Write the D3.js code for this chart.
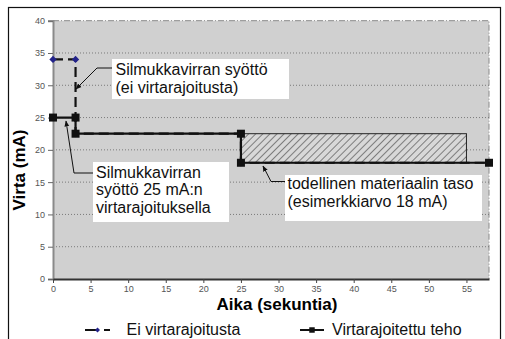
<!DOCTYPE html>
<html>
<head>
<meta charset="utf-8">
<script src="https://cdn.jsdelivr.net/npm/d3@7"></script>
<style>
  html, body { margin: 0; padding: 0; background: #fff; }
  svg { display: block; }
  text { font-family: "Liberation Sans", Arial, sans-serif; }
</style>
</head>
<body>
<svg id="chart" width="505" height="339"></svg>
<script>
// Loop current vs. time, with and without current limiting
const timeNoLimit    = [0, 3, 3, 25, 25, 58];
const currentNoLimit = [34, 34, 22.5, 22.5, 18, 18];
const timeLimited    = [0, 3, 3, 25, 25, 58];
const currentLimited = [25, 25, 22.5, 22.5, 18, 18];

// Actual material level band (example value 18 mA)
const levelTime    = [25, 55];
const levelCurrent = [18, 22.5];

const xTicks = [0, 5, 10, 15, 20, 25, 30, 35, 40, 45, 50, 55];
const yTicks = [0, 5, 10, 15, 20, 25, 30, 35, 40];

const seriesNames = ["Ei virtarajoitusta", "Virtarajoitettu teho"];

const svg = d3.select("#chart");

const x = d3.scaleLinear().domain([0, 58]).range([53, 489]);
const y = d3.scaleLinear().domain([0, 40]).range([279, 20.7]);

// outer frame (open past the bottom edge)
svg.append("rect")
  .attr("x", 8.5).attr("y", 7.5)
  .attr("width", 492).attr("height", 340)
  .attr("fill", "none").attr("stroke", "#111").attr("stroke-width", 1.2);

// plot area
const [x0, x1] = x.range();
const [yb, yt] = y.range();
svg.append("rect")
  .attr("x", x0).attr("y", yt)
  .attr("width", x1 - x0).attr("height", yb - yt)
  .attr("fill", "#d0d0d0");

// top/right plot border
svg.append("path")
  .attr("d", `M${x0},${yt}H${x1}V${yb}`)
  .attr("fill", "none").attr("stroke", "#8a8a8a").attr("stroke-width", 1)
  .attr("stroke-dasharray", "6,2,1,2");

// horizontal gridlines
svg.append("g").selectAll("line")
  .data(yTicks.filter(d => d > 0 && d < 40))
  .join("line")
  .attr("x1", x0).attr("x2", x1)
  .attr("y1", d => y(d)).attr("y2", d => y(d))
  .attr("stroke", "#7a7a7a").attr("stroke-width", 1)
  .attr("stroke-dasharray", "1,2");

// axes
const yAxis = svg.append("g")
  .attr("transform", `translate(${x0},0)`)
  .call(d3.axisLeft(y).tickValues(yTicks).tickSize(5).tickPadding(3));
yAxis.select(".domain").attr("stroke", "#8a8a8a").attr("stroke-width", 2);
yAxis.selectAll(".tick line").attr("stroke", "#666");
yAxis.selectAll(".tick text")
  .attr("font-family", "Liberation Sans, Arial, sans-serif")
  .attr("font-size", 9).attr("fill", "#555");

const xAxis = svg.append("g")
  .attr("transform", `translate(0,${yb})`)
  .call(d3.axisBottom(x).tickValues(xTicks).tickSize(4).tickPadding(3).tickSizeOuter(0));
xAxis.select(".domain").attr("stroke", "#333").attr("stroke-width", 2);
xAxis.selectAll(".tick line").attr("stroke", "#444");
xAxis.selectAll(".tick text")
  .attr("font-family", "Liberation Sans, Arial, sans-serif")
  .attr("font-size", 9).attr("fill", "#555");

// hatched level band
const defs = svg.append("defs");
const pat = defs.append("pattern")
  .attr("id", "hatch").attr("patternUnits", "userSpaceOnUse")
  .attr("width", 5).attr("height", 5)
  .attr("patternTransform", "rotate(45)");
pat.append("rect").attr("width", 5).attr("height", 5).attr("fill", "#d8d8d8");
pat.append("line").attr("x1", 0).attr("y1", 0).attr("x2", 0).attr("y2", 5)
  .attr("stroke", "#222").attr("stroke-width", 1);

svg.append("rect")
  .attr("x", x(levelTime[0])).attr("y", y(levelCurrent[1]))
  .attr("width", x(levelTime[1]) - x(levelTime[0]))
  .attr("height", y(levelCurrent[0]) - y(levelCurrent[1]))
  .attr("fill", "url(#hatch)")
  .attr("stroke", "#222").attr("stroke-width", 1);

// series
const line = d3.line().x(d => x(d[0])).y(d => y(d[1]));
const ptsNoLimit = timeNoLimit.map((t, i) => [t, currentNoLimit[i]]);
const ptsLimited = timeLimited.map((t, i) => [t, currentLimited[i]]);

svg.append("path").datum(ptsNoLimit)
  .attr("d", line).attr("fill", "none")
  .attr("stroke", "#111").attr("stroke-width", 2.2)
  .attr("stroke-dasharray", "10,5");

svg.append("path").datum(ptsLimited)
  .attr("d", line).attr("fill", "none")
  .attr("stroke", "#111").attr("stroke-width", 2.2);

const diamond = d3.symbol().type(d3.symbolDiamond2).size(34);
const square = d3.symbol().type(d3.symbolSquare).size(64);

svg.append("g").selectAll("path").data(ptsNoLimit).join("path")
  .attr("transform", d => `translate(${x(d[0])},${y(d[1])})`)
  .attr("d", diamond).attr("fill", "#23238a");

svg.append("g").selectAll("path").data(ptsLimited).join("path")
  .attr("transform", d => `translate(${x(d[0])},${y(d[1])})`)
  .attr("d", square).attr("fill", "#111");

// annotation boxes with leader arrows
defs.append("marker")
  .attr("id", "arrow").attr("viewBox", "0 0 10 10")
  .attr("refX", 9).attr("refY", 5)
  .attr("markerWidth", 6).attr("markerHeight", 6)
  .attr("orient", "auto-start-reverse")
  .append("path").attr("d", "M0,1L10,5L0,9Z").attr("fill", "#111");

const notes = [
  { box: [112, 59, 177, 40], tx: 115.5, lines: ["Silmukkavirran syöttö", "(ei virtarajoitusta)"], base: 75,
    leader: "M112,68L97,68L76,89" },
  { box: [93, 162, 136, 60], tx: 96, lines: ["Silmukkavirran", "syöttö 25 mA:n", "virtarajoituksella"], base: 177.5,
    leader: "M93,173L74,173L66,121" },
  { box: [285, 175, 197, 46], tx: 287.5, lines: ["todellinen materiaalin taso", "(esimerkkiarvo 18 mA)"], base: 189,
    leader: "M285,181.5L271,181.5L263,166" }
];

notes.forEach(n => {
  svg.append("path").attr("d", n.leader)
    .attr("fill", "none").attr("stroke", "#111").attr("stroke-width", 1)
    .attr("marker-end", "url(#arrow)");
  svg.append("rect")
    .attr("x", n.box[0]).attr("y", n.box[1])
    .attr("width", n.box[2]).attr("height", n.box[3])
    .attr("fill", "#fff");
  const t = svg.append("text").attr("font-size", 16).attr("fill", "#111");
  n.lines.forEach((s, i) => {
    t.append("tspan").attr("x", n.tx).attr("y", n.base + i * 17.5).text(s);
  });
});

// axis titles
svg.append("text")
  .attr("transform", "translate(25,170) rotate(-90)")
  .attr("text-anchor", "middle")
  .attr("font-size", 17).attr("font-weight", "bold").attr("fill", "#000")
  .text("Virta (mA)");

svg.append("text")
  .attr("x", 277).attr("y", 310)
  .attr("text-anchor", "middle")
  .attr("font-size", 17).attr("font-weight", "bold").attr("fill", "#000")
  .text("Aika (sekuntia)");

// legend
const leg = svg.append("g");
leg.append("line").attr("x1", 85).attr("x2", 110).attr("y1", 330).attr("y2", 330)
  .attr("stroke", "#111").attr("stroke-width", 2).attr("stroke-dasharray", "13,6");
leg.append("path").attr("transform", "translate(97.5,330)")
  .attr("d", d3.symbol().type(d3.symbolDiamond2).size(16)).attr("fill", "#23238a");
leg.append("text").attr("x", 126.5).attr("y", 335)
  .attr("font-size", 16).attr("fill", "#111").text(seriesNames[0]);

leg.append("line").attr("x1", 300).attr("x2", 324).attr("y1", 330).attr("y2", 330)
  .attr("stroke", "#111").attr("stroke-width", 2);
leg.append("path").attr("transform", "translate(312,330)")
  .attr("d", d3.symbol().type(d3.symbolSquare).size(30)).attr("fill", "#111");
leg.append("text").attr("x", 332).attr("y", 335)
  .attr("font-size", 16).attr("fill", "#111").text(seriesNames[1]);
</script>
</body>
</html>
